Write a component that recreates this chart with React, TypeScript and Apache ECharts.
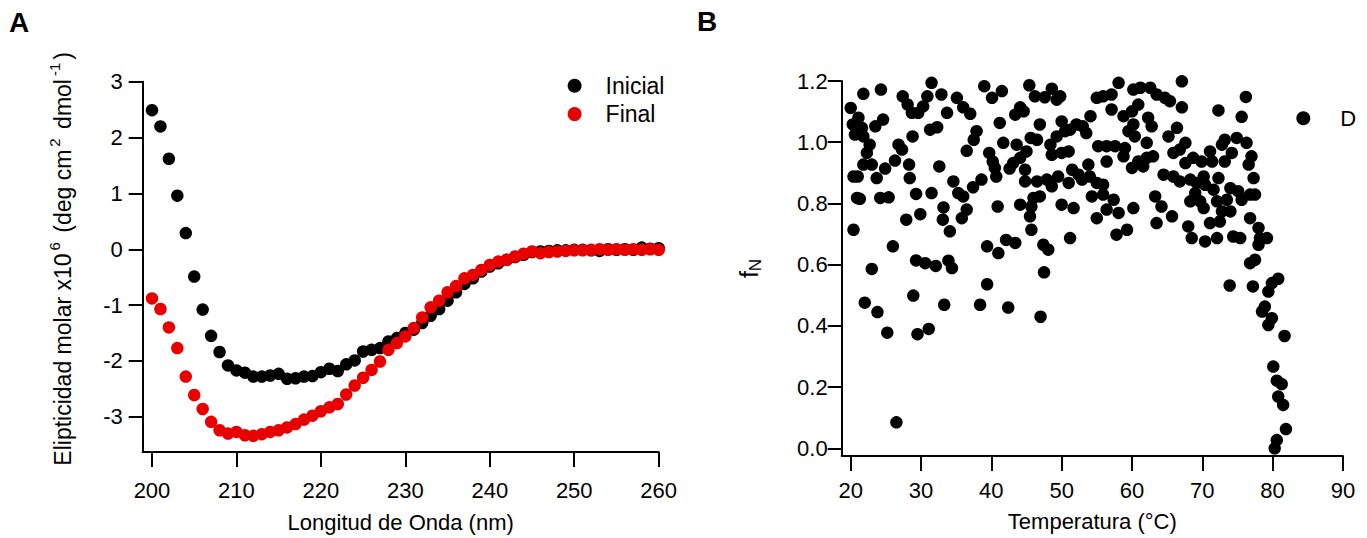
import React, { useEffect, useRef } from "react";
import * as echarts from "echarts";

// ---------- Panel A data ----------
const wavelength = [
  200, 201, 202, 203, 204, 205, 206, 207, 208, 209, 210, 211, 212, 213, 214, 215, 216, 217, 218, 219,
  220, 221, 222, 223, 224, 225, 226, 227, 228, 229, 230, 231, 232, 233, 234, 235, 236, 237, 238, 239,
  240, 241, 242, 243, 244, 245, 246, 247, 248, 249, 250, 251, 252, 253, 254, 255, 256, 257, 258, 259, 260,
];
const inicial = [
  2.49, 2.2, 1.62, 0.96, 0.29, -0.49, -1.08, -1.55, -1.84, -2.08, -2.17, -2.21, -2.28, -2.28, -2.26, -2.23, -2.32, -2.31, -2.28, -2.27,
  -2.2, -2.14, -2.18, -2.06, -1.99, -1.83, -1.8, -1.77, -1.65, -1.59, -1.5, -1.44, -1.32, -1.19, -1.07, -0.92, -0.77, -0.62, -0.52, -0.4,
  -0.31, -0.25, -0.19, -0.14, -0.1, -0.05, -0.04, -0.03, -0.02, -0.02, -0.01, -0.01, -0.02, -0.03, 0.0, -0.01, 0.0, -0.01, 0.03, 0.01, 0.02,
];
const final = [
  -0.88, -1.07, -1.4, -1.77, -2.28, -2.61, -2.86, -3.09, -3.24, -3.3, -3.27, -3.33, -3.34, -3.31, -3.27, -3.24, -3.19, -3.13, -3.05, -2.98,
  -2.9, -2.83, -2.77, -2.6, -2.44, -2.3, -2.16, -2.01, -1.8, -1.68, -1.56, -1.41, -1.22, -1.04, -0.92, -0.77, -0.66, -0.52, -0.46, -0.37,
  -0.28, -0.22, -0.19, -0.13, -0.08, -0.04, -0.07, -0.05, -0.04, -0.03, -0.02, -0.02, -0.01, 0.0, -0.01, 0.0, -0.01, 0.0, -0.01, 0.0, -0.01,
];
const waveTicks = [200, 210, 220, 230, 240, 250, 260];
const ellipTicks = [-3, -2, -1, 0, 1, 2, 3];

// ---------- Panel B data ----------
const temperatura = [
  20.0, 21.8, 24.3, 21.1, 20.3, 20.6, 21.6, 21.8, 22.7, 22.3, 24.6, 23.5, 20.4, 21.8, 23.0, 23.7, 24.9, 26.3, 26.8, 27.3,
  20.9, 24.2, 25.4, 20.4, 26.0, 27.9, 29.9, 29.3, 31.5, 28.4, 28.3, 28.8, 27.4, 28.1, 28.7, 29.6, 30.3, 30.9, 31.5, 32.9,
  33.7, 31.3, 32.3, 32.6, 34.6, 35.3, 36.0, 33.2, 33.1, 34.1, 36.5, 35.8, 37.4, 38.6, 35.1, 36.0, 37.0, 39.0, 40.1, 41.5,
  41.2, 37.9, 37.5, 36.5, 39.7, 40.2, 40.5, 40.7, 41.7, 42.6, 40.9, 42.1, 39.4, 41.0, 21.0, 21.3,
  23.0, 22.0, 23.8, 25.2, 28.9, 29.5, 31.1, 33.3, 38.4, 39.4, 42.4, 26.5, 29.3, 30.6, 32.1, 33.9, 34.4,
  45.4, 46.2, 47.6, 48.6, 49.3, 49.8, 44.1, 43.4, 44.6, 46.9, 50.0, 51.2, 52.1, 53.0, 53.5, 50.5, 54.1, 55.0, 55.9, 57.1,
  58.1, 60.2, 61.2, 62.6, 63.5, 64.7, 65.4, 67.1, 57.1, 58.8, 60.0, 60.9, 62.3, 62.8, 60.2, 59.5, 60.4, 62.1, 65.2, 66.4,
  65.9, 43.6, 45.6, 46.5, 48.4, 49.3, 48.6, 50.0, 51.0, 45.0, 44.1, 43.1, 44.8, 44.8, 46.5, 47.9, 48.6, 49.5, 51.0, 51.5,
  52.4, 53.8, 52.9, 54.0, 55.0, 55.9, 55.2, 56.4, 57.6, 59.0, 58.8, 56.4, 60.9, 62.1, 63.0, 60.0, 61.6, 64.5, 65.9, 44.1,
  46.0, 46.9, 45.7, 45.5, 50.0, 51.7, 54.3, 55.9, 57.4, 55.0, 56.4, 58.1, 60.2, 63.3, 64.2, 65.7, 63.5, 45.7, 43.4, 47.4,
  48.1, 51.2, 57.8, 59.3, 47.5, 47.0,
  67.1, 72.3, 76.2, 75.6, 67.6, 66.8, 67.6, 68.7, 69.9, 71.1, 71.4, 72.8, 73.2, 74.9, 76.3, 74.2, 73.2, 77.0, 76.6, 66.8,
  68.3, 69.2, 70.2, 70.4, 72.3, 71.6, 69.0, 68.3, 69.7, 70.2, 72.1, 73.5, 72.8, 74.0, 74.0, 75.1, 75.6, 76.8, 77.5, 77.3,
  76.8, 68.0, 71.1, 72.5, 68.5, 70.4, 72.1, 74.4, 75.4, 78.0, 78.2, 79.2, 78.0, 77.5, 76.8,
  73.9, 77.2, 80.8, 79.9, 79.4, 78.9, 78.5, 79.9, 79.4, 81.7, 80.1, 80.6, 81.3, 80.8, 81.5, 81.9, 80.6, 80.3,
];
const fN = [
  1.112, 1.158, 1.172, 1.08, 1.058, 1.025, 1.047, 1.019, 0.992, 0.965, 1.074, 1.052, 0.888, 0.927, 0.927, 0.883, 0.914, 0.94, 0.992, 0.976,
  0.818, 0.818, 0.82, 0.714, 0.66, 0.747, 0.765, 0.831, 0.834, 0.883, 0.927, 1.019, 1.15, 1.123, 1.096, 1.096, 1.117, 1.15, 1.194, 1.156,
  1.096, 1.041, 1.049, 0.921, 0.872, 0.834, 0.823, 0.787, 0.747, 0.709, 0.78, 0.752, 0.853, 0.878, 1.145, 1.114, 1.093, 1.183, 1.145, 1.167,
  1.063, 1.036, 1.008, 0.972, 0.965, 0.937, 0.916, 0.888, 0.998, 0.914, 0.79, 0.681, 0.66, 0.638, 0.888, 0.815,
  0.586, 0.476, 0.445, 0.378, 0.499, 0.373, 0.39, 0.469, 0.469, 0.536, 0.46, 0.085, 0.614, 0.605, 0.596, 0.613, 0.589,
  1.186, 1.15, 1.147, 1.175, 1.139, 1.15, 1.114, 1.09, 1.101, 1.058, 1.068, 1.041, 1.058, 1.052, 1.03, 1.036, 1.085, 1.145, 1.15, 1.156,
  1.194, 1.172, 1.178, 1.178, 1.156, 1.145, 1.134, 1.199, 1.107, 1.085, 1.101, 1.123, 1.08, 1.052, 1.058, 1.036, 1.019, 0.998, 1.019, 1.047,
  0.965, 0.992, 1.014, 1.008, 0.992, 1.019, 0.959, 0.965, 0.97, 0.97, 0.949, 0.932, 0.91, 0.872, 0.872, 0.878, 0.856, 0.888, 0.867, 0.91,
  0.894, 0.927, 0.878, 0.888, 0.867, 0.861, 0.987, 0.987, 0.987, 0.981, 0.954, 0.937, 0.937, 0.949, 0.954, 0.916, 0.921, 0.894, 0.888, 0.796,
  0.818, 0.823, 0.79, 0.758, 0.796, 0.785, 0.823, 0.829, 0.812, 0.752, 0.78, 0.769, 0.785, 0.823, 0.79, 0.758, 0.736, 0.714, 0.671, 0.665,
  0.649, 0.687, 0.698, 0.714, 0.575, 0.43,
  1.114, 1.104, 1.148, 1.083, 0.998, 0.976, 0.932, 0.949, 0.937, 0.97, 0.937, 0.992, 1.008, 1.014, 0.998, 0.965, 0.937, 0.954, 0.927, 0.872,
  0.878, 0.867, 0.888, 0.861, 0.883, 0.845, 0.834, 0.807, 0.807, 0.785, 0.807, 0.812, 0.774, 0.774, 0.85, 0.84, 0.812, 0.829, 0.829, 0.883,
  0.752, 0.725, 0.736, 0.741, 0.687, 0.676, 0.687, 0.692, 0.687, 0.72, 0.687, 0.687, 0.665, 0.616, 0.605,
  0.532, 0.529, 0.554, 0.54, 0.512, 0.463, 0.447, 0.425, 0.403, 0.367, 0.267, 0.221, 0.21, 0.169, 0.142, 0.063, 0.027, 0.0,
];
const tempTicks = [20, 30, 40, 50, 60, 70, 80, 90];
const fnTicks = [0, 0.2, 0.4, 0.6, 0.8, 1.0, 1.2];

const FONT = "'Liberation Sans', Arial, Helvetica, sans-serif";
const RED = "#e80000";

function axisCommon() {
  return {
    axisLine: { show: true, onZero: false, lineStyle: { color: "#000", width: 2 } },
    axisTick: { show: true, inside: false, length: 14, lineStyle: { color: "#000", width: 2 } },
    splitLine: { show: false },
  };
}

export default function App() {
  const ref = useRef<HTMLDivElement>(null);

  useEffect(() => {
    if (!ref.current) return;
    const chart = echarts.init(ref.current, undefined, { renderer: "svg" });
    const labelStyle = { color: "#000", fontSize: 22, fontFamily: FONT };

    chart.setOption({
      animation: false,
      backgroundColor: "#fff",
      textStyle: { fontFamily: FONT },
      grid: [
        { left: 142.7, top: 81.7, width: 516, height: 373.3 },
        { left: 841.7, top: 81, width: 501.2, height: 375 },
      ],
      xAxis: [
        {
          type: "value",
          gridIndex: 0,
          min: 198.9,
          max: 260,
          ...axisCommon(),
          axisTick: { ...axisCommon().axisTick, length: 15, customValues: waveTicks },
          axisLabel: { ...labelStyle, margin: 27, customValues: waveTicks, formatter: (v: number) => String(v) },
          name: "Longitud de Onda (nm)",
          nameLocation: "middle",
          nameGap: 59,
          nameTextStyle: { color: "#000", fontSize: 22, fontFamily: FONT },
        },
        {
          type: "value",
          gridIndex: 1,
          min: 18.72,
          max: 90,
          ...axisCommon(),
          axisTick: { ...axisCommon().axisTick, length: 15, customValues: tempTicks },
          axisLabel: { ...labelStyle, margin: 23, customValues: tempTicks, formatter: (v: number) => String(v) },
          name: "Temperatura (°C)",
          nameLocation: "middle",
          nameGap: 54,
          nameTextStyle: { color: "#000", fontSize: 22, fontFamily: FONT },
        },
      ],
      yAxis: [
        {
          type: "value",
          gridIndex: 0,
          min: -3.63,
          max: 3,
          ...axisCommon(),
          axisTick: { ...axisCommon().axisTick, customValues: ellipTicks },
          axisLabel: { ...labelStyle, margin: 20, customValues: ellipTicks, formatter: (v: number) => String(v) },
          name: "Elipticidad molar x10{sup|6} (deg cm{sup|2} dmol{sup|-1})",
          nameLocation: "middle",
          nameRotate: 90,
          nameGap: 63,
          nameTextStyle: {
            color: "#000",
            fontSize: 23,
            lineHeight: 33,
            fontFamily: FONT,
            padding: [0, 0, 0, 16],
            rich: {
              sup: { fontSize: 15, lineHeight: 14, verticalAlign: "top", padding: [0, 3, 0, 3], fontFamily: FONT, color: "#000" },
            },
          },
        },
        {
          type: "value",
          gridIndex: 1,
          min: -0.025,
          max: 1.2,
          ...axisCommon(),
          axisTick: { ...axisCommon().axisTick, customValues: fnTicks },
          axisLabel: { ...labelStyle, margin: 14, customValues: fnTicks, formatter: (v: number) => v.toFixed(1) },
          name: "f{sub|N}",
          nameLocation: "middle",
          nameRotate: 90,
          nameGap: 78,
          nameTextStyle: {
            color: "#000",
            fontSize: 25,
            lineHeight: 30,
            fontFamily: FONT,
            rich: {
              sub: { fontSize: 17, lineHeight: 15, verticalAlign: "bottom", fontFamily: FONT, color: "#000" },
            },
          },
        },
      ],
      legend: [
        {
          data: ["Inicial", "Final"],
          orient: "vertical",
          left: 567.6,
          top: 74.3,
          padding: 0,
          itemWidth: 14,
          itemHeight: 14,
          itemGap: 5.3,
          icon: "circle",
          selectedMode: false,
          textStyle: { color: "#000", fontSize: 23, lineHeight: 22, fontFamily: FONT, padding: [0, 0, 0, 19] },
        },
        {
          data: ["D"],
          orient: "vertical",
          left: 1296.3,
          top: 107.3,
          padding: 0,
          itemWidth: 14,
          itemHeight: 14,
          icon: "circle",
          selectedMode: false,
          textStyle: { color: "#000", fontSize: 22, lineHeight: 22, fontFamily: FONT, padding: [0, 0, 0, 25] },
        },
      ],
      graphic: [
        { type: "text", x: 9, y: 22, style: { text: "A", font: `bold 28px ${FONT}`, fill: "#000", verticalAlign: "middle", align: "left" } },
        { type: "text", x: 697, y: 21, style: { text: "B", font: `bold 28px ${FONT}`, fill: "#000", verticalAlign: "middle", align: "left" } },
      ],
      series: [
        {
          name: "Inicial",
          type: "scatter",
          xAxisIndex: 0,
          yAxisIndex: 0,
          symbol: "circle",
          symbolSize: 12.5,
          itemStyle: { color: "#000", opacity: 1 },
          data: wavelength.map((w, i) => [w, inicial[i]]),
        },
        {
          name: "Final",
          type: "scatter",
          xAxisIndex: 0,
          yAxisIndex: 0,
          symbol: "circle",
          symbolSize: 12.5,
          itemStyle: { color: RED, opacity: 1 },
          data: wavelength.map((w, i) => [w, final[i]]),
        },
        {
          name: "D",
          type: "scatter",
          xAxisIndex: 1,
          yAxisIndex: 1,
          symbol: "circle",
          symbolSize: 12.5,
          itemStyle: { color: "#000", opacity: 1 },
          data: temperatura.map((t, i) => [t, fN[i]]),
        },
      ],
    });

    return () => chart.dispose();
  }, []);

  return (
    <div
      ref={ref}
      style={{ position: "absolute", left: 0, top: 0, width: 1367, height: 538, background: "#fff" }}
    />
  );
}
